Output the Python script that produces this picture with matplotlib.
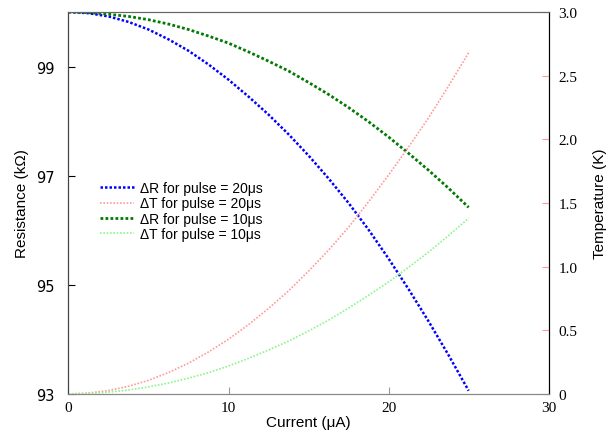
import matplotlib.pyplot as plt
from matplotlib.ticker import FuncFormatter

# current (uA)
current = [0, 1.25, 2.5, 3.75, 5, 6.25, 7.5, 8.75, 10, 11.25, 12.5,
           13.75, 15, 16.25, 17.5, 18.75, 20, 21.25, 22.5, 23.75, 25]

# resistance (kOhm)
r_20us = [100.00, 99.98, 99.92, 99.82, 99.68, 99.50, 99.29, 99.04, 98.76, 98.45, 98.12,
          97.76, 97.37, 96.95, 96.50, 96.01, 95.48, 94.92, 94.33, 93.71, 93.06]
r_10us = [100.00, 99.99, 99.96, 99.92, 99.86, 99.78, 99.68, 99.56, 99.43, 99.27, 99.10,
          98.92, 98.71, 98.49, 98.25, 97.99, 97.71, 97.41, 97.10, 96.77, 96.42]

# temperature rise (K)
t_20us = [0.0, 0.007, 0.027, 0.06, 0.107, 0.168, 0.242, 0.33, 0.43, 0.545, 0.672,
          0.81, 0.965, 1.13, 1.31, 1.51, 1.72, 1.94, 2.17, 2.42, 2.68]
t_10us = [0.0, 0.003, 0.014, 0.031, 0.055, 0.086, 0.124, 0.168, 0.22, 0.28, 0.345,
          0.415, 0.495, 0.58, 0.675, 0.775, 0.88, 0.995, 1.115, 1.245, 1.38]

left_ticks = [93, 95, 97, 99]
right_ticks = [0, 0.5, 1.0, 1.5, 2.0, 2.5, 3.0]
x_ticks = [0, 10, 20, 30]

fig = plt.figure(figsize=(6.11, 4.35), dpi=100)
ax = fig.add_axes([0.112, 0.092, 0.786, 0.878])
ax2 = ax.twinx()

l1, = ax.plot(current, r_20us, color='#0000ff', lw=1.8, ls=(0, (1, 0.8)),
              label='ΔR for pulse = 20μs')
l3, = ax.plot(current, r_10us, color='#007a00', lw=2.0, ls=(0, (1, 0.8)),
              label='ΔR for pulse = 10μs')
l2, = ax2.plot(current, t_20us, color='#ff9a9a', lw=1.2, ls=(0, (1, 1)),
               label='ΔT for pulse = 20μs')
l4, = ax2.plot(current, t_10us, color='#8cf58c', lw=1.2, ls=(0, (1, 1)),
               label='ΔT for pulse = 10μs')

ax.set_xlim(0, 30)
ax.set_ylim(93, 100)
ax2.set_ylim(0, 3.0)

ax.set_xticks(x_ticks)
ax.set_yticks(left_ticks)
ax2.set_yticks(right_ticks)
ax2.yaxis.set_major_formatter(FuncFormatter(lambda v, p: '0' if v == 0 else f'{v:.1f}'))

ax.tick_params(axis='y', direction='in', length=5, pad=10, labelsize=10.5, colors='black')
ax.tick_params(axis='x', direction='in', length=5, pad=5, labelsize=11, color='#999999')
ax2.tick_params(axis='y', direction='in', length=5, pad=7, labelsize=11, color='#ff9a9a')
for lab in ax.get_xticklabels() + ax2.get_yticklabels():
    lab.set_fontfamily('Liberation Serif')
for lab in ax.get_yticklabels():
    lab.set_fontfamily('DejaVu Sans')

for a in (ax, ax2):
    a.spines['top'].set_color('#666666')
    a.spines['bottom'].set_color('#888888')
    a.spines['left'].set_color('#444444')
    a.spines['right'].set_color('black')

ax.set_xlabel('Current (μA)', fontsize=11, family='Liberation Sans', labelpad=1)
ax.set_ylabel('Resistance (kΩ)', fontsize=11, family='Liberation Sans', labelpad=5)
ax2.set_ylabel('Temperature (K)', fontsize=11, family='Liberation Sans', labelpad=11)

leg = ax.legend(handles=[l1, l2, l3, l4], loc='upper left',
                bbox_to_anchor=(0.055, 0.572), frameon=False,
                prop={'family': 'Liberation Sans', 'size': 10},
                handlelength=2.4, handletextpad=0.45, labelspacing=0.1,
                borderaxespad=0)

fig.savefig('out.png', dpi=100)
